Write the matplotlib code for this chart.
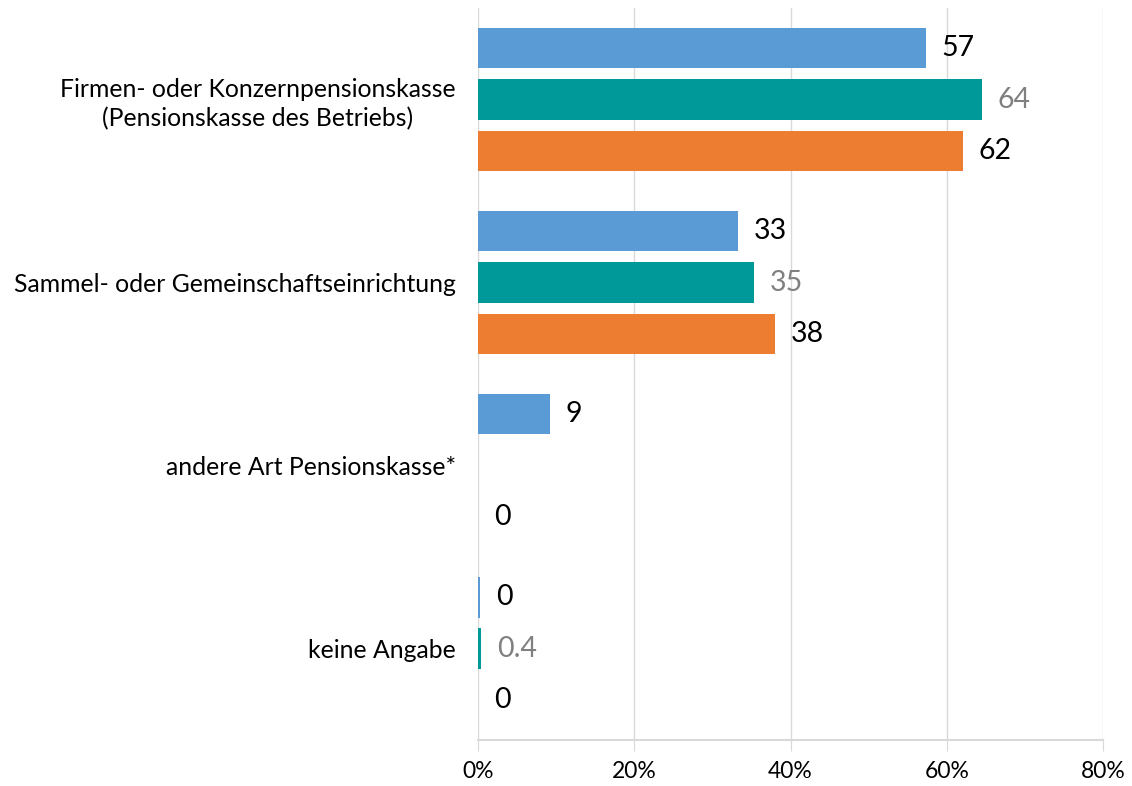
import matplotlib

matplotlib.use("Agg")
import matplotlib.pyplot as plt
import numpy as np

plt.rcParams["font.family"] = ["Lato", "DejaVu Sans"]

categories = [
    "Firmen- oder Konzernpensionskasse\n(Pensionskasse des Betriebs)",
    "Sammel- oder Gemeinschaftseinrichtung",
    "andere Art Pensionskasse*",
    "keine Angabe",
]
# values in percent; None = no bar/label
blue_vals = [57.3, 33.3, 9.2, 0.3]
teal_vals = [64.5, 35.3, None, 0.4]
orange_vals = [62.1, 38.0, 0.0, 0.0]
blue_labels = ["57", "33", "9", "0"]
teal_labels = ["64", "35", None, "0.4"]
orange_labels = ["62", "38", "0", "0"]

series = [
    (blue_vals, blue_labels, "#5B9BD5", "black", -0.279),
    (teal_vals, teal_labels, "#009999", "#808080", 0.0),
    (orange_vals, orange_labels, "#ED7D31", "black", 0.279),
]

fig = plt.figure(figsize=(11.32, 7.86), dpi=100)
ax = fig.add_axes([0.4223, 0.0585, 0.5521, 0.9313])

y = np.arange(len(categories))
for vals, labels, color, txt_color, offset in series:
    for i, (v, lab) in enumerate(zip(vals, labels)):
        if v is None:
            continue
        ax.barh(y[i] + offset, v, height=0.219, color=color, zorder=3)
        ax.text(v + 2.0, y[i] + offset, lab, va="center", ha="left",
                fontsize=20.5, color=txt_color, zorder=4)

ax.set_xlim(0, 80)
ax.set_ylim(3.5, -0.5)
ax.set_xticks([0, 20, 40, 60, 80])
ax.set_xticklabels(["0%", "20%", "40%", "60%", "80%"], fontsize=16.5)
ax.set_yticks(y)
ax.set_yticklabels(categories, fontsize=17.8, linespacing=1.3)
ax.tick_params(axis="y", length=0, pad=16)
ax.tick_params(axis="x", length=8, color="#D9D9D9", pad=7)
for lbl in ax.get_yticklabels():
    lbl.set_horizontalalignment("right")
    lbl.set_multialignment("center")

ax.grid(axis="x", color="#D9D9D9", linewidth=1, zorder=0)
for side in ["top", "right", "left"]:
    ax.spines[side].set_visible(False)
ax.spines["bottom"].set_color("#D9D9D9")
ax.spines["bottom"].set_linewidth(1.5)

fig.savefig("out.png", dpi=100)
